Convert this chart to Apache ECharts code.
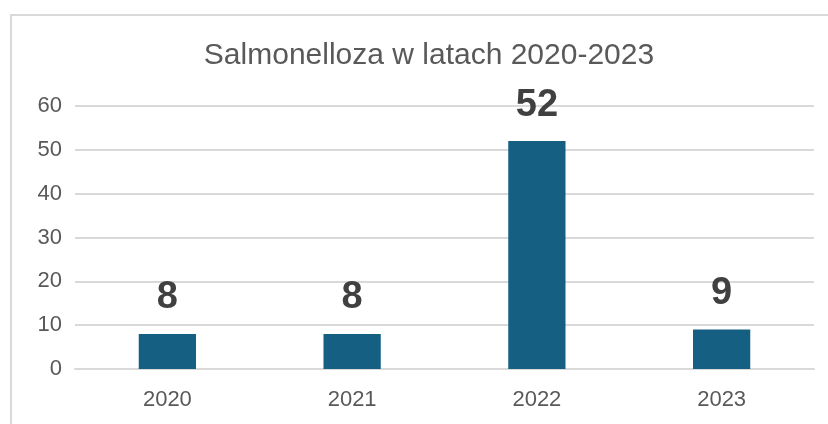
<!DOCTYPE html>
<html>
<head>
<meta charset="utf-8">
<script src="https://cdn.jsdelivr.net/npm/echarts@6/dist/echarts.min.js"></script>
<style>
  html, body { margin: 0; padding: 0; background: #fff; }
  .frame {
    position: absolute; left: 10px; top: 14px; right: -2px; bottom: -2px;
    border-left: 2px solid #d9d9d9; border-top: 2px solid #d9d9d9;
  }
  #chart { position: absolute; left: 0; top: 0; width: 828px; height: 424px; }
</style>
</head>
<body>
<div class="frame"></div>
<div id="chart"></div>
<script>
const years = ['2020', '2021', '2022', '2023']
const cases = [8, 8, 52, 9]

const chart = echarts.init(document.getElementById('chart'))
chart.setOption({
  animation: false,
  textStyle: { fontFamily: 'Liberation Sans' },
  title: {
    text: 'Salmonelloza w latach 2020-2023',
    left: 424,
    textAlign: 'center',
    top: 36,
    textStyle: { fontSize: 30, fontWeight: 'normal', color: '#595959', fontFamily: 'Liberation Sans' }
  },
  grid: { left: 75, right: 14, top: 106, bottom: 55 },
  xAxis: {
    type: 'category',
    data: years,
    axisLine: { lineStyle: { color: '#d9d9d9', width: 2 } },
    axisTick: { show: false },
    axisLabel: { color: '#595959', fontSize: 22, margin: 20 }
  },
  yAxis: {
    type: 'value',
    min: 0,
    max: 60,
    interval: 10,
    axisLine: { show: false },
    axisTick: { show: false },
    axisLabel: { color: '#595959', fontSize: 22, margin: 13 },
    splitLine: { lineStyle: { color: '#d9d9d9', width: 2 } }
  },
  series: [{
    type: 'bar',
    data: cases,
    barWidth: '31%',
    itemStyle: { color: '#156082' },
    label: {
      show: true,
      position: 'top',
      distance: 17,
      color: '#404040',
      fontSize: 38,
      fontWeight: 'bold'
    }
  }]
})
</script>
</body>
</html>
